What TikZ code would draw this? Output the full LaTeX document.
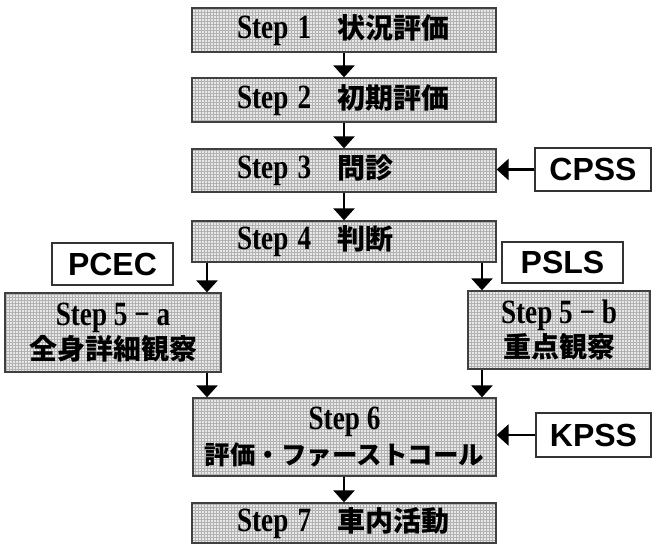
\documentclass[tikz,border=0pt]{standalone}
\usepackage{fontspec}
\setmainfont{Liberation Serif}
\newfontfamily\stepfont[FakeStretch=0.8]{Liberation Serif}
\newfontfamily\cjk{Noto Sans CJK JP}
\newfontfamily\lsans{Liberation Sans}
\usetikzlibrary{arrows.meta,patterns}
\newcommand\jp[1]{{\cjk\bfseries\fontsize{28}{34}\selectfont #1}}
\newcommand\st[1]{{\stepfont\bfseries\fontsize{34}{34}\selectfont #1}}
\tikzset{
  stepbox/.style={draw=black!75, line width=1.3pt, preaction={fill=black!9},
    pattern=grid, pattern color=black!30, inner sep=0pt,
    font=\fontsize{28}{34}\selectfont},
  leftstep/.style={stepbox, minimum width=304pt, text width=259pt, align=left,
    execute at begin node=\hspace*{22.5pt}},
  lblbox/.style={draw=black!80, line width=1.3pt, fill=white, inner sep=0pt,
    font=\lsans\bfseries\fontsize{32}{32}\selectfont},
  arr/.style={line width=2.6pt, -{Triangle[width=21pt,length=12pt]}}
}
\begin{document}
\begin{tikzpicture}[x=1pt,y=-1pt]
\useasboundingbox (0,0) rectangle (653,546);
% step boxes
\node[leftstep, minimum height=44pt] (s1) at (344,30) {\st{Step 1}\hspace{26pt}\jp{状況評価}};
\node[leftstep, minimum height=44pt] (s2) at (344,100) {\st{Step 2}\hspace{26pt}\jp{初期評価}};
\node[leftstep, minimum height=43pt] (s3) at (344,170.5) {\st{Step 3}\hspace{26pt}\jp{問診}};
\node[leftstep, minimum height=41pt] (s4) at (344,241.5) {\st{Step 4}\hspace{26pt}\jp{判断}};
\node[stepbox, minimum width=216pt, minimum height=79pt, align=center] (s5a) at (113,332.5)
  {\st{Step 5 − a}\\\jp{全身詳細観察}};
\node[stepbox, minimum width=182pt, minimum height=78pt, align=center] (s5b) at (559,330)
  {\st{Step 5 − b}\\\jp{重点観察}};
\node[stepbox, minimum width=303pt, minimum height=78pt, align=center] (s6) at (344.5,437)
  {\st{Step 6}\\[1pt]{\cjk\bfseries\fontsize{25.5}{30}\selectfont 評価・ファーストコール}};
\node[leftstep, minimum height=40pt] (s7) at (344,523) {\st{Step 7}\hspace{26pt}\jp{車内活動}};
% label boxes
\node[lblbox, minimum width=116pt, minimum height=43pt] (cpss) at (593,169.5) {CPSS};
\node[lblbox, minimum width=121pt, minimum height=42pt] (pcec) at (112.5,264) {PCEC};
\node[lblbox, minimum width=121pt, minimum height=41pt] (psls) at (562.5,262.5) {PSLS};
\node[lblbox, minimum width=115pt, minimum height=44pt] (kpss) at (593.5,435) {KPSS};
% columns for side arrows
\coordinate (la) at (207,0);
\coordinate (ra) at (482,0);
% arrows
\draw[arr] (s1.south) -- (s2.north);
\draw[arr] (s2.south) -- (s3.north);
\draw[arr] (s3.south) -- (s4.north);
\draw[arr] (s6.south -| s7.north) -- (s7.north);
\draw[arr] (la |- s4.south) -- (la |- s5a.north);
\draw[arr] (la |- s5a.south) -- (la |- s6.north);
\draw[arr] (ra |- s4.south) -- (ra |- s5b.north);
\draw[arr] (ra |- s5b.south) -- (ra |- s6.north);
\draw[arr] (cpss.west) -- (cpss.west -| s3.east);
\draw[arr] (kpss.west) -- (kpss.west -| s6.east);
\end{tikzpicture}
\end{document}
